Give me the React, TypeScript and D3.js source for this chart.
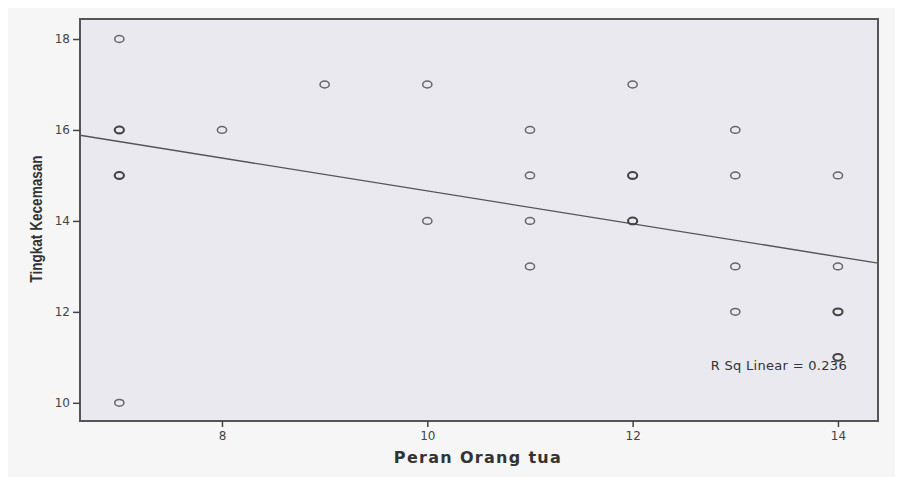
import React, { useEffect, useRef } from 'react';
import * as d3 from 'd3';

// Peran Orang tua (x) vs Tingkat Kecemasan (y)
const peran = [7, 7, 7, 7, 8, 9, 10, 10, 11, 11, 11, 11, 12, 12, 12, 13, 13, 13, 13, 14, 14, 14, 14];
const kecemasan = [18, 16, 15, 10, 16, 17, 17, 14, 16, 15, 14, 13, 17, 15, 14, 16, 15, 13, 12, 15, 13, 12, 11];
// repeated cases draw a darker ring
const jumlah = [1, 2, 2, 1, 1, 1, 1, 1, 1, 1, 1, 1, 1, 2, 2, 1, 1, 1, 1, 1, 1, 2, 2];

const xTicks = [8, 10, 12, 14];
const yTicks = [10, 12, 14, 16, 18];

// linear fit line
const intercept = 18.28;
const slope = -0.362;
const rSq = 0.236;

const W = 895;
const H = 469;
const FONT = '"DejaVu Sans", Verdana, sans-serif';

const App = () => {
    const ref = useRef<SVGSVGElement>(null);

    useEffect(() => {
        const svg = d3.select(ref.current);
        svg.selectAll('*').remove();

        const left = 72, top = 11, right = 870, bottom = 413;

        const x = d3.scaleLinear().domain([6.617, 14.39]).range([left, right]);
        const y = d3.scaleLinear().domain([9.6, 18.44]).range([bottom, top]);

        svg.append('rect')
            .attr('width', W).attr('height', H)
            .attr('fill', '#f6f6f7');

        svg.append('rect')
            .attr('x', left).attr('y', top)
            .attr('width', right - left).attr('height', bottom - top)
            .attr('fill', '#e9e9ef');

        // fit line
        const [x0, x1] = x.domain();
        svg.append('line')
            .attr('x1', x(x0)).attr('y1', y(intercept + slope * x0))
            .attr('x2', x(x1)).attr('y2', y(intercept + slope * x1))
            .attr('stroke', '#555').attr('stroke-width', 1.4);

        svg.append('g')
            .selectAll('ellipse')
            .data(peran.map((p, i) => ({ p, k: kecemasan[i], n: jumlah[i] })))
            .enter().append('ellipse')
            .attr('cx', d => x(d.p))
            .attr('cy', d => y(d.k))
            .attr('rx', 4.6).attr('ry', 3.4)
            .attr('fill', 'none')
            .attr('stroke', d => d.n > 1 ? '#444' : '#666')
            .attr('stroke-width', d => d.n > 1 ? 2.1 : 1.5);

        // frame
        svg.append('rect')
            .attr('x', left).attr('y', top)
            .attr('width', right - left).attr('height', bottom - top)
            .attr('fill', 'none')
            .attr('stroke', '#555').attr('stroke-width', 2);

        const yAxis = svg.append('g')
            .attr('transform', `translate(${left},0)`)
            .call(d3.axisLeft(y).tickValues(yTicks).tickSize(7).tickPadding(3));
        const xAxis = svg.append('g')
            .attr('transform', `translate(0,${bottom})`)
            .call(d3.axisBottom(x).tickValues(xTicks).tickSize(6).tickPadding(4));

        [yAxis, xAxis].forEach(a => {
            a.select('.domain').remove();
            a.selectAll('line').attr('stroke', '#444').attr('stroke-width', 1.5);
            a.selectAll('text')
                .attr('fill', '#444')
                .style('font-family', FONT)
                .style('font-size', '12px');
        });

        svg.append('text')
            .attr('x', 839).attr('y', 362)
            .attr('text-anchor', 'end')
            .attr('fill', '#333')
            .style('font-family', FONT)
            .style('font-size', '13px')
            .style('letter-spacing', '0.3px')
            .text(`R Sq Linear = ${rSq}`);

        svg.append('text')
            .attr('x', 470).attr('y', 455)
            .attr('text-anchor', 'middle')
            .attr('fill', '#333')
            .style('font-family', FONT)
            .style('font-size', '16px')
            .style('font-weight', 'bold')
            .style('letter-spacing', '1.3px')
            .text('Peran Orang tua');

        svg.append('text')
            .attr('transform', `translate(34,211) rotate(-90) scale(0.8,1)`)
            .attr('text-anchor', 'middle')
            .attr('fill', '#333')
            .style('font-family', 'Arial, "Liberation Sans", sans-serif')
            .style('font-size', '17px')
            .style('font-weight', 'bold')
            .text('Tingkat Kecemasan');
    }, []);

    return <svg ref={ref} width={W} height={H} style={{ display: 'block' }} />;
};

export default App;
